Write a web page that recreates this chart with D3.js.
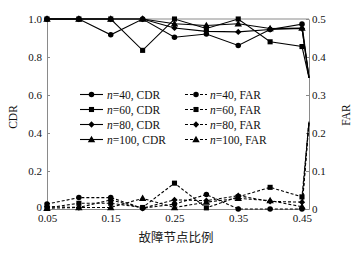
<!DOCTYPE html>
<html><head><meta charset="utf-8">
<script src="https://cdn.jsdelivr.net/npm/d3@7"></script>
<style>body{margin:0;background:#fff} svg{display:block}</style>
</head><body><svg id="c" width="359" height="256"></svg>
<script>
const xValues = [0.05, 0.10, 0.15, 0.20, 0.25, 0.30, 0.35, 0.40, 0.45, 0.461];
const xTicks = [0.05, 0.15, 0.25, 0.35, 0.45];
const cdrTicks = [0, 0.2, 0.4, 0.6, 0.8, 1.0];
const farTicks = [0, 0.1, 0.2, 0.3, 0.4, 0.5];

const cdr40  = [1, 1, 0.917, 1, 0.904, 0.921, 0.861, 0.945, 0.973, 0.69];
const cdr60  = [1, 1, 1, 0.835, 1, 0.950, 1, 0.880, 0.855, 0.69];
const cdr80  = [1, 1, 1, 1, 0.953, 0.935, 0.932, 0.945, 0.950, 0.69];
const cdr100 = [1, 1, 1, 1, 0.975, 0.966, 0.975, 0.950, 0.952, 0.69];

const far40  = [0.013, 0.030, 0.030, 0.002, 0.013, 0.038, 0.000, 0.000, 0.000, 0.23];
const far60  = [0.003, 0.015, 0.015, 0.004, 0.068, 0.003, 0.032, 0.057, 0.032, 0.23];
const far80  = [0.006, 0.004, 0.024, 0.002, 0.024, 0.022, 0.035, 0.020, 0.018, 0.23];
const far100 = [0.002, 0.004, 0.004, 0.028, 0.004, 0.018, 0.028, 0.022, 0.006, 0.23];

const nLabels = ["40", "60", "80", "100"];
const markers = ["circle", "square", "diamond", "triangle"];
const xTitle = "故障节点比例";

const svg = d3.select("#c");
const L = 47, R = 309, T = 19, B = 209;
const x = d3.scaleLinear().domain([0.05, 0.461]).range([L, R]);
const yL = d3.scaleLinear().domain([0, 1]).range([B, T]);
const yR = d3.scaleLinear().domain([0, 0.5]).range([B, T]);
const axisColor = "#8a8a8a";
const serif = "'Liberation Serif','DejaVu Serif',serif";

function sym(type) {
  if (type === "circle") return d3.symbol().type(d3.symbolCircle).size(24)();
  if (type === "square") return d3.symbol().type(d3.symbolSquare).size(26)();
  if (type === "diamond") return d3.symbol().type(d3.symbolSquare).size(20)();
  return d3.symbol().type(d3.symbolTriangle).size(24)();
}
function drawMarker(g, type, px, py) {
  const p = g.append("path").attr("d", sym(type)).attr("fill", "#000");
  if (type === "diamond") p.attr("transform", `translate(${px},${py}) rotate(45)`);
  else if (type === "triangle") p.attr("transform", `translate(${px},${py+0.5})`);
  else p.attr("transform", `translate(${px},${py})`);
}

// frame
svg.append("line").attr("x1", L).attr("x2", R).attr("y1", T).attr("y2", T).attr("stroke", axisColor);

// axes
const gx = svg.append("g").attr("transform", `translate(0,${B})`)
  .call(d3.axisBottom(x).tickValues(xTicks).tickFormat(d3.format(".2f")).tickSizeInner(-3).tickSizeOuter(0).tickPadding(4));
const gl = svg.append("g").attr("transform", `translate(${L},0)`)
  .call(d3.axisLeft(yL).tickValues(cdrTicks).tickFormat(d => d === 0 ? "0" : d3.format(".1f")(d)).tickSizeInner(-3).tickSizeOuter(0).tickPadding(5));
const gr = svg.append("g").attr("transform", `translate(${R},0)`)
  .call(d3.axisRight(yR).tickValues(farTicks).tickFormat(d => d === 0 ? "0" : d3.format(".1f")(d)).tickSizeInner(-3).tickSizeOuter(0).tickPadding(3));
[gx, gl, gr].forEach(g => {
  g.select(".domain").attr("stroke", axisColor);
  g.selectAll(".tick line").attr("stroke", axisColor);
  g.selectAll(".tick text").attr("fill", "#111").style("font-family", serif).style("font-size", "11px");
});
gx.selectAll(".tick text").attr("y", 5.5).attr("dy", "0.71em");
gl.selectAll(".tick text").filter(d => d === 0).attr("dy", "0.15em");

// series
const cdrSeries = [cdr40, cdr60, cdr80, cdr100];
const farSeries = [far40, far60, far80, far100];
const line = (yS) => d3.line().x((d, i) => x(xValues[i])).y(d => yS(d));

const gData = svg.append("g");
farSeries.forEach((s, k) => {
  gData.append("path").attr("d", line(yR)(s)).attr("fill", "none").attr("stroke", "#000")
    .attr("stroke-width", 1.1).attr("stroke-dasharray", "3,2");
});
cdrSeries.forEach((s, k) => {
  gData.append("path").attr("d", line(yL)(s)).attr("fill", "none").attr("stroke", "#000").attr("stroke-width", 1.1);
});
farSeries.forEach((s, k) => {
  s.forEach((v, i) => { if (i < 9) drawMarker(gData, markers[k], x(xValues[i]), yR(v)); });
});
cdrSeries.forEach((s, k) => {
  s.forEach((v, i) => { if (i < 9) drawMarker(gData, markers[k], x(xValues[i]), yL(v)); });
});

// legend
const rows = [94.5, 109.5, 124.5, 139.5];
const leg = svg.append("g");
nLabels.forEach((n, k) => {
  const y = rows[k];
  leg.append("line").attr("x1", 80).attr("x2", 103).attr("y1", y).attr("y2", y).attr("stroke", "#000").attr("stroke-width", 1.1);
  drawMarker(leg, markers[k], 91.5, y);
  const t1 = leg.append("text").attr("x", 107).attr("y", y).attr("dy", "0.35em")
    .style("font-family", serif).style("font-size", "11.5px").attr("fill", "#111");
  t1.append("tspan").style("font-style", "italic").text("n");
  t1.append("tspan").text("=" + n + ", CDR");
  leg.append("line").attr("x1", 185).attr("x2", 207).attr("y1", y).attr("y2", y).attr("stroke", "#000")
    .attr("stroke-width", 1.1).attr("stroke-dasharray", "3,2");
  drawMarker(leg, markers[k], 196, y);
  const t2 = leg.append("text").attr("x", 210).attr("y", y).attr("dy", "0.35em")
    .style("font-family", serif).style("font-size", "11.5px").attr("fill", "#111");
  t2.append("tspan").style("font-style", "italic").text("n");
  t2.append("tspan").text("=" + n + ", FAR");
});

// titles
svg.append("text").attr("x", 176).attr("y", 242).attr("text-anchor", "middle")
  .style("font-family", "'Noto Sans CJK SC',sans-serif").style("font-size", "12.5px").attr("fill", "#222").text(xTitle);
svg.append("text").attr("transform", "translate(17,117) rotate(-90)").attr("text-anchor", "middle")
  .style("font-family", serif).style("font-size", "11.5px").attr("fill", "#111").text("CDR");
svg.append("text").attr("transform", "translate(350,115) rotate(-90)").attr("text-anchor", "middle")
  .style("font-family", serif).style("font-size", "11.5px").attr("fill", "#111").text("FAR");
</script></body></html>
